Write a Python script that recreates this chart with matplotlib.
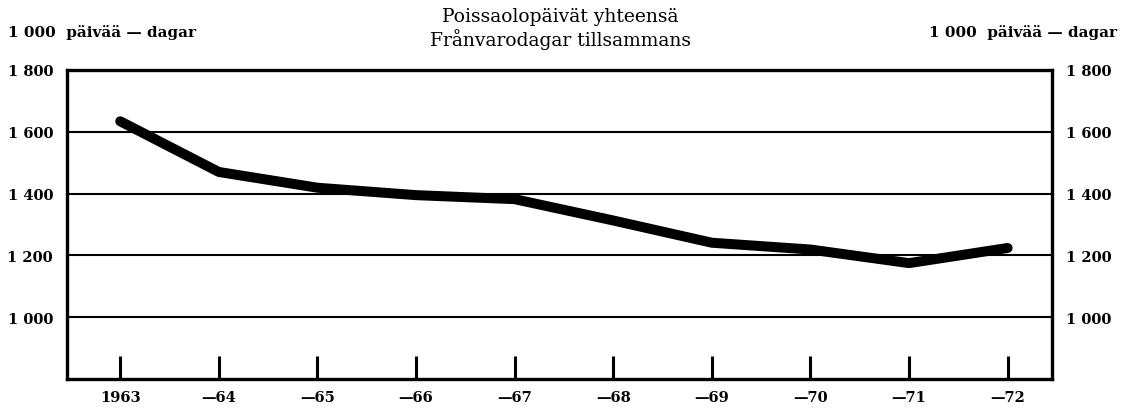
import matplotlib
matplotlib.use("Agg")
import matplotlib.pyplot as plt

years = [1963, 1964, 1965, 1966, 1967, 1968, 1969, 1970, 1971, 1972]
year_labels = ["1963", "—64", "—65", "—66", "—67", "—68", "—69", "—70", "—71", "—72"]
absence_days = [1634, 1470, 1419, 1395, 1382, 1313, 1241, 1219, 1175, 1224]
y_ticks = [1000, 1200, 1400, 1600, 1800]
y_tick_labels = ["1 000", "1 200", "1 400", "1 600", "1 800"]

plt.rcParams['font.family'] = ['DejaVu Serif', 'Liberation Serif']

fig = plt.figure(figsize=(11.25, 4.1), dpi=100)
ax = fig.add_axes([67/1125, 30/410, (1052-67)/1125, (380-71)/410])

ax.plot(years, absence_days, color='black', linewidth=7.2, solid_capstyle='round',
        solid_joinstyle='round', zorder=3)

ax.set_xlim(1962.46, 1972.45)
ax.set_ylim(800, 1800)

ax.set_yticks(y_ticks)
ax.set_yticklabels(y_tick_labels, fontsize=10.5, fontweight='bold')
ax.tick_params(axis='y', length=0, labelright=True, labelleft=True, pad=10)
for y in y_ticks:
    ax.axhline(y, color='black', linewidth=1.5, zorder=1)

ax.set_xticks(years)
ax.set_xticklabels(year_labels, fontsize=10.5, fontweight='bold')
ax.tick_params(axis='x', direction='in', length=16.5, width=2.2, pad=8)

for s in ax.spines.values():
    s.set_linewidth(2.4)

fig.text(560/1125, 1 - 17/410, "Poissaolopäivät yhteensä", ha='center', va='center', fontsize=13.5)
fig.text(560/1125, 1 - 40/410, "Frånvarodagar tillsammans", ha='center', va='center', fontsize=13.5)
fig.text(8/1125, 1 - 33/410, "1 000  päivää — dagar", ha='left', va='center', fontsize=11, fontweight='bold')
fig.text(1117/1125, 1 - 33/410, "1 000  päivää — dagar", ha='right', va='center', fontsize=11, fontweight='bold')

fig.savefig("out.png", dpi=100)
